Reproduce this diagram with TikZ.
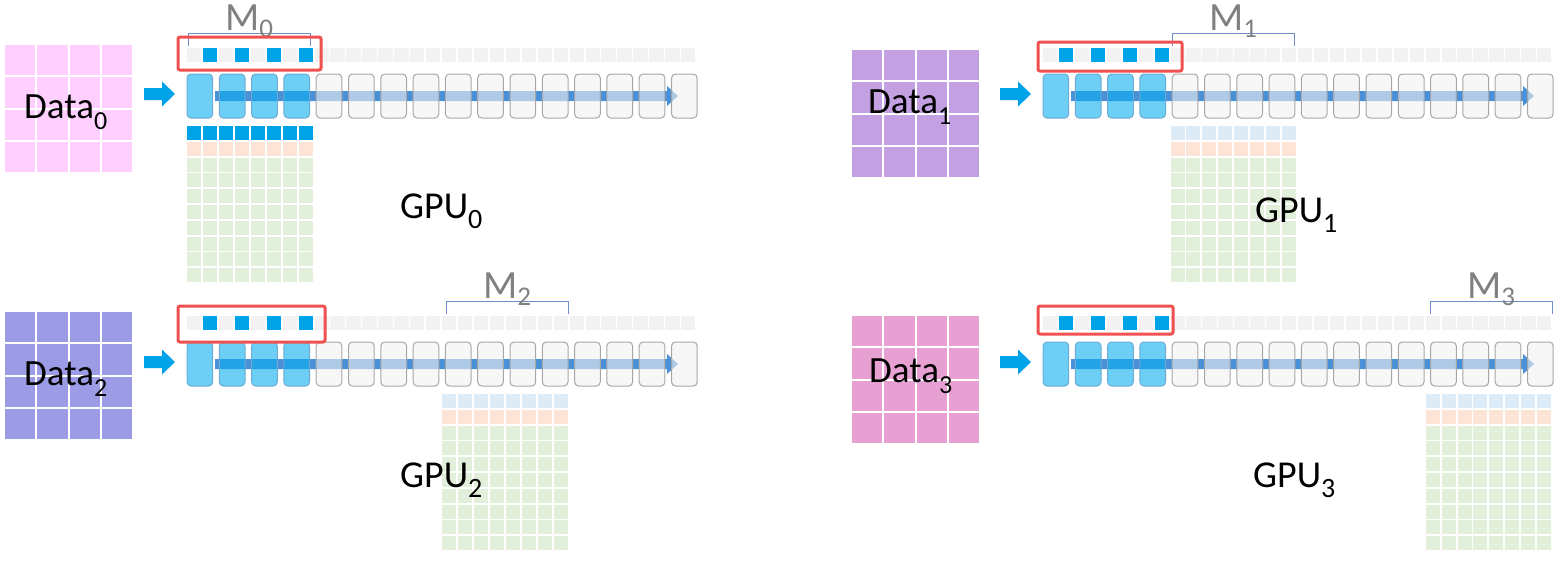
\documentclass[tikz,border=0pt]{standalone}
\usepackage{fontspec}
\setmainfont{Carlito}
\definecolor{memgray}{RGB}{242,242,242}
\definecolor{hlblue}{RGB}{0,162,232}
\definecolor{arrowblue}{RGB}{74,144,216}
\definecolor{boxgray}{RGB}{242,242,242}
\definecolor{boxblue}{RGB}{12,175,240}
\definecolor{boxedge}{RGB}{166,166,166}
\definecolor{boxblueedge}{RGB}{110,170,210}
\definecolor{framered}{RGB}{240,80,80}
\definecolor{bracketc}{RGB}{110,140,200}
\definecolor{labelgray}{RGB}{128,128,128}
\definecolor{lblue}{RGB}{221,235,247}
\definecolor{lorange}{RGB}{252,228,214}
\definecolor{lgreen}{RGB}{226,239,218}
\definecolor{dpink}{RGB}{255,208,255}
\definecolor{dpurple}{RGB}{194,160,226}
\definecolor{dblue}{RGB}{155,155,230}
\definecolor{dmagenta}{RGB}{230,160,210}

\newcommand\datalab[2]{{\fontsize{37}{37}\selectfont #1\raisebox{-11pt}{\fontsize{26}{26}\selectfont #2}}}
\newcommand\gpulab[2]{{\fontsize{38}{38}\selectfont #1\raisebox{-10pt}{\fontsize{28}{28}\selectfont #2}}}
\newcommand\msub[1]{{\fontsize{40}{40}\selectfont M\raisebox{-7pt}{\fontsize{27}{27}\selectfont #1}}}

\tikzset{
 memcell/.style={fill=memgray},
 memhl/.style={fill=hlblue},
 graybox/.style={fill=boxgray, fill opacity=0.6, draw=boxedge, draw opacity=1, line width=1pt, rounded corners=4pt},
 bluebox/.style={fill=boxblue, fill opacity=0.6, draw=boxblueedge, draw opacity=1, line width=1pt, rounded corners=4pt},
 flowarrow/.style={fill=arrowblue},
 inarrow/.style={fill=hlblue},
 hlframe/.style={draw=framered, line width=3pt, rounded corners=2pt},
 mbracket/.style={draw=bracketc, line width=1pt},
 mlabel/.style={text=labelgray, inner sep=0pt, anchor=base},
 biglabel/.style={text=black, inner sep=0pt, anchor=base west},
}

% data grid: x, y, colour
\newcommand\datagrid[3]{%
 \foreach \r in {0,...,3}{\foreach \c in {0,...,3}{
   \fill[fill=#3] (#1+\c*32.25,#2+\r*32.25) rectangle ++(30.25,30.25);
 }}}

% gpu matrix: x, y, top row colour
\newcommand\gpumat[3]{%
 \foreach \r in {0,...,9}{\foreach \c in {0,...,7}{
  \ifnum\r=0 \def\cc{#3}\else\ifnum\r=1 \def\cc{lorange}\else\def\cc{lgreen}\fi\fi
  \fill[fill=\cc] (#1+\c*15.94,#2+\r*15.8) rectangle ++(14,14);
 }}}

% row: X0, Ytop
\newcommand\gpurow[2]{%
 \foreach \i in {0,...,31}{\fill[memcell] (#1+\i*15.94,#2) rectangle ++(14.3,14);}
 \foreach \i in {1,3,5,7}{\fill[memhl] (#1+\i*15.94,#2) rectangle ++(14.3,14);}
 \fill[flowarrow] (#1+28,#2+43) -- (#1+480,#2+43) -- (#1+480,#2+38) -- (#1+491,#2+48)
   -- (#1+480,#2+58) -- (#1+480,#2+53) -- (#1+28,#2+53) -- cycle;
 \foreach \i in {0,...,15}{%
   \ifnum\i<4 \draw[bluebox] (#1+\i*32.3,#2+26) rectangle ++(25.7,44);
   \else \draw[graybox] (#1+\i*32.3,#2+26) rectangle ++(25.7,44);\fi}
 \fill[inarrow] (#1-43,#2+40) -- (#1-25,#2+40) -- (#1-25,#2+33.5) -- (#1-12,#2+46)
   -- (#1-25,#2+58.5) -- (#1-25,#2+52) -- (#1-43,#2+52) -- cycle;
}

% bracket: left x, Ytop, index, name
\newcommand\mbr[4]{%
 \draw[mbracket] (#1,#2-2) -- (#1,#2-15) -- (#1+122,#2-15) -- (#1+122,#2-2);
 \node[mlabel] (#4) at (#1+61,#2-18) {\msub{#3}};
}

\begin{document}
\begin{tikzpicture}[x=1pt,y=-1pt]
\useasboundingbox (0,0) rectangle (1560,560);

% ---------- panel 0 ----------
\datagrid{5}{45}{dpink}
\node[biglabel] (data0) at (24,118) {\datalab{Data}{0}};
\gpurow{187}{48}
\gpumat{187}{126}{hlblue}
\mbr{188}{48}{0}{m0}
\draw[hlframe] (178,37) rectangle (321,70);
\node[biglabel] (gpu0) at (400,218) {\gpulab{GPU}{0}};

% ---------- panel 1 ----------
\datagrid{852}{50}{dpurple}
\node[biglabel] (data1) at (868,113) {\datalab{Data}{1}};
\gpurow{1043}{48}
\gpumat{1170.5}{126}{lblue}
\mbr{1172}{48}{1}{m1}
\draw[hlframe] (1038,42) rectangle (1182,71);
\node[biglabel] (gpu1) at (1255,222) {\gpulab{GPU}{1}};

% ---------- panel 2 ----------
\datagrid{5}{312}{dblue}
\node[biglabel] (data2) at (24,385) {\datalab{Data}{2}};
\gpurow{187}{316}
\gpumat{442}{394}{lblue}
\mbr{446}{316}{2}{m2}
\draw[hlframe] (178,306) rectangle (325,342);
\node[biglabel] (gpu2) at (400,487) {\gpulab{GPU}{2}};

% ---------- panel 3 ----------
\datagrid{852}{316}{dmagenta}
\node[biglabel] (data3) at (869,382) {\datalab{Data}{3}};
\gpurow{1043}{316}
\gpumat{1425.6}{394}{lblue}
\mbr{1430}{316}{3}{m3}
\draw[hlframe] (1038,306) rectangle (1173,334);
\node[biglabel] (gpu3) at (1253,487) {\gpulab{GPU}{3}};
\end{tikzpicture}
\end{document}
